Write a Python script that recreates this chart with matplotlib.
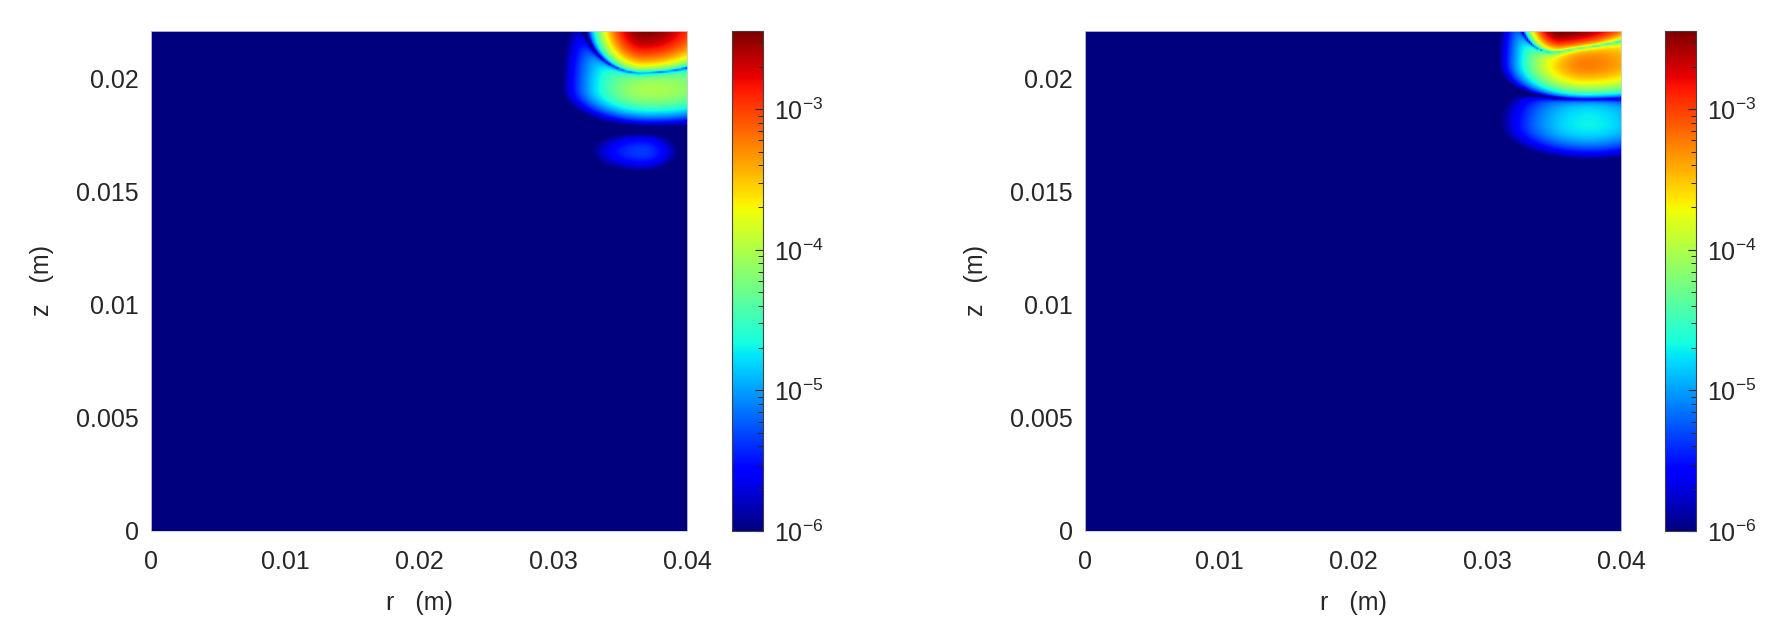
"""Two r-z log-scale field maps (jet colormap) with colorbars."""

import matplotlib
matplotlib.use("Agg")
import matplotlib.pyplot as plt
import numpy as np
from matplotlib.colors import LogNorm
from matplotlib.ticker import LogLocator, LogFormatterSciNotation

plt.rcParams["font.family"] = ["Liberation Sans", "DejaVu Sans"]
plt.rcParams["mathtext.fontset"] = "custom"
plt.rcParams["mathtext.rm"] = "Liberation Sans"
plt.rcParams["mathtext.it"] = "Liberation Sans:italic"

# domain (m)
r_max = 0.04
z_max = 0.0221
x_ticks = [0, 0.01, 0.02, 0.03, 0.04]
x_tick_labels = ["0", "0.01", "0.02", "0.03", "0.04"]
y_ticks = [0, 0.005, 0.01, 0.015, 0.02]
y_tick_labels = ["0", "0.005", "0.01", "0.015", "0.02"]
c_min, c_max = 1e-6, 3.6e-3

# lobes of the field near the top-right corner
# (centre r, centre z, signed peak, widths inward/outward in r, below/above in z)
left_rc = [0.0368, 0.0373, 0.0366]
left_zc = [0.0224, 0.0196, 0.0168]
left_amp = [3.8e-3, -1.0e-4, 4.5e-6]
left_wr_in = [0.0017, 0.0031, 0.0030]
left_wr_out = [0.0030, 0.0045, 0.0022]
left_wz_lo = [0.0011, 0.0008, 0.0007]
left_wz_hi = [0.0020, 0.0030, 0.0007]

right_rc = [0.0355, 0.0374, 0.0376]
right_zc = [0.0226, 0.0207, 0.0180]
right_amp = [6.5e-3, -6e-4, 2e-5]
right_wr_in = [0.0012, 0.0026, 0.0038]
right_wr_out = [0.0035, 0.0040, 0.0040]
right_wz_lo = [0.0008, 0.0008, 0.0009]
right_wz_hi = [0.0020, 0.0025, 0.0016]


def build_field(R, Z, rc, zc, amp, wr_in, wr_out, wz_lo, wz_hi):
    f = np.zeros_like(R)
    for i in range(len(rc)):
        wr = np.where(R < rc[i], wr_in[i], wr_out[i])
        wz = np.where(Z < zc[i], wz_lo[i], wz_hi[i])
        f += amp[i] * np.exp(-((R - rc[i]) / wr) ** 2 - ((Z - zc[i]) / wz) ** 2)
    return np.maximum(np.abs(f), 1e-12)


r = np.linspace(0, r_max, 270)
z = np.linspace(0, z_max, 250)
R, Z = np.meshgrid(r, z)
fields = [
    build_field(R, Z, left_rc, left_zc, left_amp, left_wr_in, left_wr_out,
                left_wz_lo, left_wz_hi),
    build_field(R, Z, right_rc, right_zc, right_amp, right_wr_in, right_wr_out,
                right_wz_lo, right_wz_hi),
]

fig = plt.figure(figsize=(17.69, 6.34), dpi=100)
ax_lefts = [151 / 1769, 1085 / 1769]
cb_lefts = [732 / 1769, 1665 / 1769]
bottom, height = 1 - 531 / 634, 500 / 634
width, cb_width = 536 / 1769, 31 / 1769

for k, field in enumerate(fields):
    ax = fig.add_axes([ax_lefts[k], bottom, width, height])
    im = ax.imshow(field, origin="lower", extent=[0, r_max, 0, z_max],
                   aspect="auto", cmap="jet", interpolation="bilinear",
                   interpolation_stage="data",
                   norm=LogNorm(vmin=c_min, vmax=c_max, clip=True))
    ax.set_xlim(0, r_max)
    ax.set_ylim(0, z_max)
    ax.set_xticks(x_ticks)
    ax.set_xticklabels(x_tick_labels)
    ax.set_yticks(y_ticks)
    ax.set_yticklabels(y_tick_labels)
    ax.tick_params(length=0, labelsize=18, colors="#262626")
    ax.tick_params(axis="x", pad=14)
    ax.tick_params(axis="y", pad=9)
    for s in ax.spines.values():
        s.set_color("#d0d0d0")
        s.set_linewidth(0.6)
    ax.set_xlabel("r   (m)", fontsize=18, color="#262626", labelpad=12)
    ax.set_ylabel("z   (m)", fontsize=18, color="#262626", labelpad=16)

    cax = fig.add_axes([cb_lefts[k], bottom, cb_width, height])
    cb = fig.colorbar(im, cax=cax)
    cb.outline.set_edgecolor("#404040")
    cb.outline.set_linewidth(0.8)
    cax.yaxis.set_major_locator(LogLocator(base=10, numticks=10))
    cax.yaxis.set_minor_locator(LogLocator(base=10, subs=np.arange(2, 10),
                                           numticks=20))
    cax.yaxis.set_major_formatter(LogFormatterSciNotation())
    cax.tick_params(which="major", direction="in", length=6, width=0.8,
                    labelsize=18, colors="#262626", pad=8)
    cax.tick_params(which="minor", direction="in", length=3.5, width=0.7,
                    colors="#262626")

fig.savefig("out.png", dpi=100)
